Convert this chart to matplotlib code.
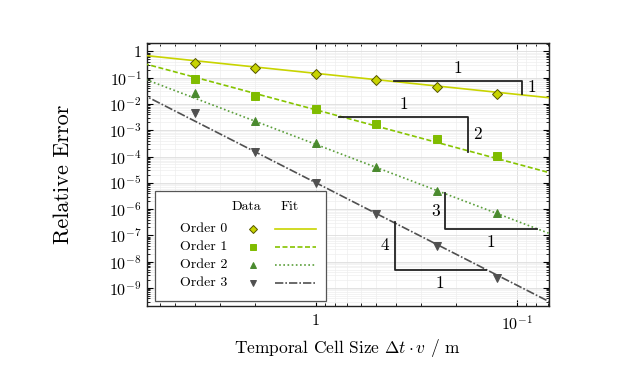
import matplotlib
matplotlib.use("Agg")
import matplotlib.pyplot as plt
import numpy as np
from matplotlib.ticker import LogLocator, FuncFormatter, NullFormatter
from matplotlib.patches import Rectangle
from matplotlib.lines import Line2D

plt.rcParams['font.family'] = 'cmr10'
plt.rcParams['mathtext.fontset'] = 'cm'
plt.rcParams['axes.formatter.use_mathtext'] = True

# ── data ─────────────────────────────────────────────────────────────────────
cell_size = [4, 2, 1, 0.5, 0.25, 0.125]
orders = ["Order 0", "Order 1", "Order 2", "Order 3"]
err_order0 = [0.355, 0.229, 0.143, 0.084, 0.0457, 0.0247]
err_order1 = [0.092, 0.0207, 0.0063, 0.0017, 4.5e-4, 1.07e-4]
err_order2 = [0.0257, 2.24e-3, 3.16e-4, 4.07e-5, 5.0e-6, 6.9e-7]
err_order3 = [4.5e-3, 1.5e-4, 1.0e-5, 6.3e-7, 3.9e-8, 2.3e-9]
errors = [err_order0, err_order1, err_order2, err_order3]

# fitted power laws: err = fit_coef * h ** fit_rate
fit_rate = [0.80, 2.06, 2.92, 3.90]
fit_coef = [0.147, 0.0060, 2.9e-4, 1.0e-5]

# slope triangles: (x start, x end, y top, y bottom, rate label)
tri_x0 = [0.409, 0.765, 0.227, 0.406]
tri_x1 = [0.0944, 0.176, 0.0798, 0.143]
tri_y0 = [0.0752, 3.2e-3, 3.98e-6, 3.3e-7]
tri_y1 = [0.0234, 1.45e-4, 1.74e-7, 5.0e-9]
tri_rate = ["1", "2", "3", "4"]

colors = ["#c8d400", "#80bc00", "#4a8a2e", "#505050"]
line_colors = ["#c8d400", "#86c400", "#5a9e3a", "#505050"]
markers = ["D", "s", "^", "v"]
msizes = [5.2, 6.2, 5.8, 5.8]
styles = ["-", (0, (3, 1.5)), (0, (1, 1.5)), (0, (5, 1.2, 1, 1.2))]

fig = plt.figure(figsize=(6.23, 3.9), dpi=100)
ax = fig.add_axes([0.2355, 0.2162, 0.6457, 0.6735])
ax.set_xscale("log")
ax.set_yscale("log")
ax.set_xlim(6.95, 0.0693)
ax.set_ylim(2.1e-10, 2.1)

h = np.array(cell_size)
hh = np.array([10.0, 0.05])
for i in range(4):
    ax.plot(hh, fit_coef[i] * hh ** fit_rate[i], color=line_colors[i],
            linestyle=styles[i], lw=1.2, zorder=3)
    ec = "#555500" if i == 0 else colors[i]
    ax.plot(h, errors[i], linestyle="none", marker=markers[i], ms=msizes[i],
            mfc=colors[i], mec=ec, mew=0.7, zorder=4)

# slope triangles
for k in range(4):
    x0, x1, y0, y1 = tri_x0[k], tri_x1[k], tri_y0[k], tri_y1[k]
    if k < 2:
        ax.plot([x0, x1, x1], [y0, y0, y1], color="#222222", lw=1.3, zorder=5)
        ax.text(np.sqrt(x0 * x1), y0 * 1.5, "1", ha="center", va="bottom", fontsize=12.5)
        ax.text(x1 * 0.94, np.sqrt(y0 * y1), tri_rate[k], ha="left", va="center", fontsize=12.5)
    else:
        ax.plot([x0, x0, x1], [y0, y1, y1], color="#222222", lw=1.3, zorder=5)
        ax.text(x0 * 1.06, np.sqrt(y0 * y1), tri_rate[k], ha="right", va="center", fontsize=12.5)
        ax.text(np.sqrt(x0 * x1), y1 * 0.6, "1", ha="center", va="top", fontsize=12.5)

def fmt(v, pos):
    e = int(round(np.log10(v)))
    return "1" if e == 0 else r"$10^{%d}$" % e

ax.xaxis.set_major_locator(LogLocator(base=10, numticks=20))
ax.yaxis.set_major_locator(LogLocator(base=10, numticks=20))
ax.xaxis.set_minor_locator(LogLocator(base=10, subs=np.arange(2, 10), numticks=20))
ax.yaxis.set_minor_locator(LogLocator(base=10, subs=np.arange(2, 10), numticks=20))
ax.xaxis.set_major_formatter(FuncFormatter(fmt))
ax.yaxis.set_major_formatter(FuncFormatter(fmt))
ax.xaxis.set_minor_formatter(NullFormatter())
ax.yaxis.set_minor_formatter(NullFormatter())
ax.tick_params(which="both", direction="in", top=True, right=True, labelsize=11.5)
ax.tick_params(axis="x", which="major", pad=6)
ax.tick_params(which="major", length=4, width=0.8)
ax.tick_params(which="minor", length=2, width=0.6)
ax.grid(which="major", color="#dddddd", lw=0.6)
ax.grid(which="minor", color="#eeeeee", lw=0.5)
ax.set_axisbelow(True)
for s in ax.spines.values():
    s.set_linewidth(1.0)
    s.set_color("#222222")

ax.set_xlabel(r"Temporal Cell Size $\Delta t \cdot v$ / m", fontsize=12.5, labelpad=3)
ax.set_ylabel("Relative Error", fontsize=16, labelpad=26)

# legend table
ax.add_patch(Rectangle((0.021, 0.018), 0.425, 0.42, transform=ax.transAxes,
                       facecolor="white", edgecolor="#555555", lw=0.9, zorder=6))
ax.text(0.248, 0.375, "Data", transform=ax.transAxes, ha="center", va="center",
        fontsize=10, zorder=7)
ax.text(0.355, 0.375, "Fit", transform=ax.transAxes, ha="center", va="center",
        fontsize=10, zorder=7)
for i in range(4):
    yy = 0.292 - i * 0.069
    ax.text(0.2, yy, orders[i], transform=ax.transAxes, ha="right", va="center",
            fontsize=10, zorder=7)
    ec = "#555500" if i == 0 else colors[i]
    ax.plot([0.263], [yy], transform=ax.transAxes, marker=markers[i],
            ms=msizes[i] * 0.8, mfc=colors[i], mec=ec, mew=0.7, zorder=7)
    ax.add_line(Line2D([0.32, 0.42], [yy, yy], transform=ax.transAxes,
                       color=line_colors[i], linestyle=styles[i], lw=1.2, zorder=7))

fig.savefig("out.png", dpi=100)
